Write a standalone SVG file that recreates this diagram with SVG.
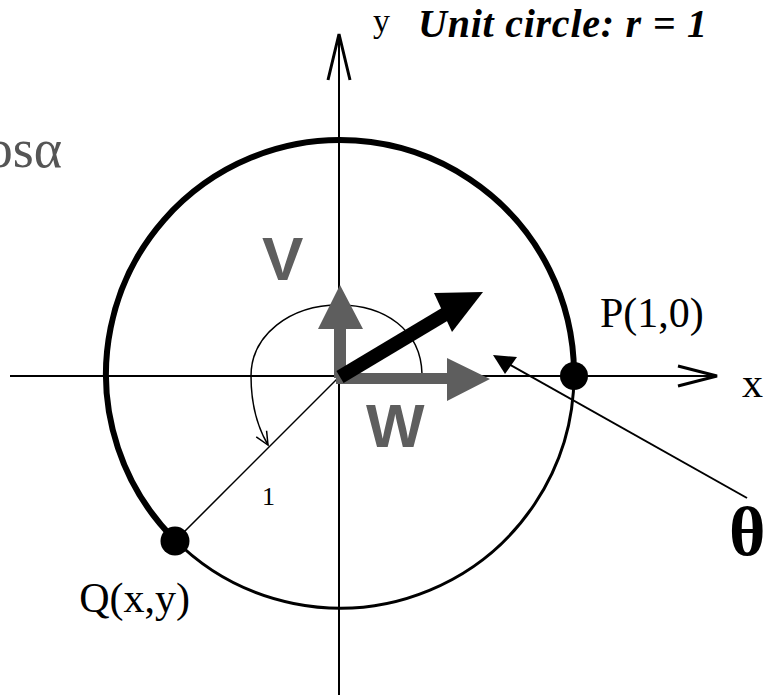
<svg xmlns="http://www.w3.org/2000/svg" width="770" height="695" viewBox="0 0 770 695">
<style>
.serif{font-family:"Liberation Serif","Times New Roman",serif;fill:#000}
.sans{font-family:"Liberation Sans",Arial,sans-serif;font-weight:bold;fill:#5e5e5e}
.ln{stroke:#000;fill:none}
.gray{fill:#5e5e5e}
</style>
<defs>
<marker id="open" markerUnits="userSpaceOnUse" markerWidth="16" markerHeight="16" refX="14" refY="7" orient="auto">
<path d="M1,1 L14,7 L1,13" fill="none" stroke="#000" stroke-width="1.5"/>
</marker>
</defs>
<rect width="770" height="695" fill="#fff"/>
<g id="axes">
<line class="ln" x1="10" y1="376" x2="716" y2="376" stroke-width="2"/>
<polyline class="ln" points="678,366 717,376 678,386" stroke-width="3"/>
<line class="ln" x1="339" y1="34" x2="339" y2="695" stroke-width="2"/>
<polyline class="ln" points="328,80 339,34 350,80" stroke-width="3"/>
</g>
<g id="circle">
<path class="ln" d="M574,373 A234,234 0 1 0 173.5,538.5" stroke-width="6"/>
<path class="ln" d="M173.5,538.5 A234,234 0 0 0 574,373" stroke-width="3"/>
</g>
<g id="connectors">
<line class="ln" x1="338" y1="378" x2="175" y2="541" stroke-width="1.5"/>
<path class="ln" d="M422,374 C421,330 385,305 339,305 C290,305 251,335 251,376 C251,405 258,428 268,445" stroke-width="1.5" marker-end="url(#open)"/>
<line class="ln" x1="747" y1="498" x2="505" y2="362" stroke-width="2"/>
<polygon points="493,355 517,357 505,374" fill="#000"/>
</g>
<g id="vector-v">
<polygon class="gray" points="334,378 334,329 318,329 340,285 363,329 346,329 346,378"/>
</g>
<g id="vector-w">
<polygon class="gray" points="336,373 447,373 447,358 490,379 447,401 447,384 336,384"/>
</g>
<g id="vector-r">
<line x1="340" y1="377" x2="447" y2="313" stroke="#000" stroke-width="14"/>
<polygon points="483,292 434,293 452,332" fill="#000"/>
</g>
<g id="point-p">
<circle cx="574" cy="376" r="14" fill="#000"/>
<text class="serif" x="600" y="327" font-size="42">P(1,0)</text>
</g>
<g id="point-q">
<circle cx="175" cy="541" r="14.5" fill="#000"/>
<text class="serif" x="190" y="612" font-size="42" text-anchor="end">Q(x,y)</text>
</g>
<g id="labels">
<text class="serif" x="62" y="167" font-size="54" text-anchor="end" style="fill:#555">cosα</text>
<text class="serif" x="373" y="32" font-size="34">y</text>
<text class="serif" x="418" y="37" font-size="40" font-weight="bold" font-style="italic" textLength="289" lengthAdjust="spacing">Unit circle: r = 1</text>
<text class="serif" x="742" y="397" font-size="42">x</text>
<text class="serif" x="729" y="555" font-size="70" font-weight="bold">θ</text>
<text class="serif" x="262" y="505" font-size="26">1</text>
<text class="sans" x="262" y="280" font-size="62">V</text>
<text class="sans" x="366" y="447" font-size="62">W</text>
</g>
</svg>
